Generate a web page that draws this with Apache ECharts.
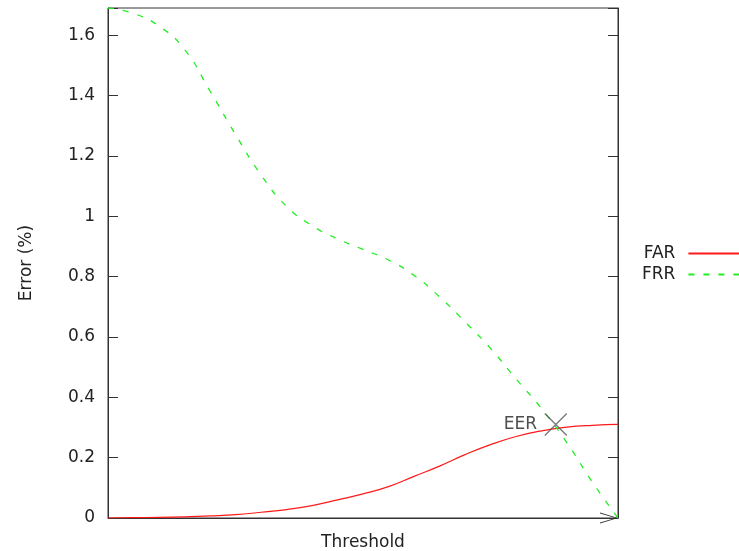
<!DOCTYPE html>
<html>
<head>
<meta charset="utf-8">
<script src="https://cdn.jsdelivr.net/npm/echarts@6/dist/echarts.min.js"></script>
<style>
html,body{margin:0;padding:0;background:#fff;}
#chart{width:739px;height:551px;}
</style>
</head>
<body>
<div id="chart"></div>
<script>
// Data
const thresholds = [0, 0.05, 0.10, 0.15, 0.20, 0.25, 0.30, 0.35, 0.40, 0.45, 0.50,
                    0.55, 0.60, 0.65, 0.70, 0.75, 0.80, 0.85, 0.90, 0.95, 1.00];
const farValues = [0, 0.001, 0.002, 0.004, 0.007, 0.011, 0.019, 0.028, 0.041, 0.060, 0.080,
                   0.104, 0.138, 0.172, 0.210, 0.243, 0.270, 0.289, 0.301, 0.307, 0.310];
const frrValues = [1.69, 1.672, 1.630, 1.553, 1.415, 1.271, 1.137, 1.033, 0.969, 0.925, 0.890,
                   0.855, 0.804, 0.733, 0.650, 0.562, 0.461, 0.363, 0.249, 0.118, 0];
const eerPoint = [0.878, 0.31];
const eerLabel = 'EER';
const seriesNames = ['FAR', 'FRR'];
const yTicks = [0, 0.2, 0.4, 0.6, 0.8, 1, 1.2, 1.4, 1.6];
const yMax = 1.69;

const FONT = 'DejaVu Sans';
const TXT = '#222';
const AX = '#333';

const chevron = 'path://M0 18 L5.5 0 L11 18 L10 18 L5.5 2.5 L1 18 Z';

function pairs(xs, ys){ return xs.map((x,i)=>[x, ys[i]]); }
function tickFmt(v){
  for (const t of yTicks) { if (Math.abs(v - t) < 1e-6) return String(t); }
  return '';
}

const chart = echarts.init(document.getElementById('chart'), null, {renderer:'canvas'});
chart.setOption({
  animation: false,
  backgroundColor: '#fff',
  textStyle: {fontFamily: FONT, color: TXT},
  grid: {left: 108, right: 121, top: 8, bottom: 33, show: true, borderColor: AX, borderWidth: 1,
         backgroundColor: 'transparent', containLabel: false, outerBoundsMode: 'none'},
  legend: {
    orient: 'vertical', left: 642, top: 245, align: 'right', padding: 0,
    itemWidth: 52, itemHeight: 20, itemGap: 4,
    itemStyle: {opacity: 0},
    textStyle: {fontFamily: FONT, fontSize: 17, color: TXT, padding: [0, 8, 0, 0]},
    data: seriesNames
  },
  xAxis: {
    type: 'value', min: 0, max: 1,
    name: 'Threshold', nameLocation: 'middle', nameGap: 16,
    nameTextStyle: {fontFamily: FONT, fontSize: 17, color: TXT, verticalAlign: 'top'},
    axisLine: {show: true, lineStyle: {color: AX, width: 1}, symbol: ['none', chevron], symbolSize: [11, 18], symbolOffset: [0, -9]},
    axisTick: {show: false}, axisLabel: {show: false}, splitLine: {show: false}
  },
  yAxis: [{
    type: 'value', min: 0, max: yMax, interval: 0.2,
    name: 'Error (%)', nameLocation: 'middle', nameGap: 73,
    nameTextStyle: {fontFamily: FONT, fontSize: 17, color: TXT},
    axisLine: {show: true, lineStyle: {color: AX, width: 1}},
    axisTick: {show: true, inside: true, length: 10, lineStyle: {color: AX, width: 1}},
    axisLabel: {fontFamily: FONT, fontSize: 17, color: TXT, margin: 13, formatter: tickFmt},
    splitLine: {show: false}
  }, {
    type: 'value', min: 0, max: yMax, interval: 0.2, position: 'right',
    axisLine: {show: true, lineStyle: {color: AX, width: 1}},
    axisTick: {show: true, inside: true, length: 10, lineStyle: {color: AX, width: 1}},
    axisLabel: {show: false}, splitLine: {show: false}
  }],
  series: [{
    name: seriesNames[0], type: 'line', data: pairs(thresholds, farValues),
    smooth: true, symbol: 'none', z: 3,
    lineStyle: {color: '#ff1a1a', width: 1.2}, itemStyle: {color: '#ff1a1a'}
  }, {
    name: seriesNames[1], type: 'line', data: pairs(thresholds, frrValues),
    smooth: true, symbol: 'none', z: 3,
    lineStyle: {color: '#22ee22', width: 1.3, type: [6, 9]}, itemStyle: {color: '#22ee22'}
  }, {
    name: eerLabel, type: 'scatter', data: [eerPoint], z: 4,
    symbol: 'path://M0 0 L20 20 M20 0 L0 20', symbolSize: 22,
    itemStyle: {color: 'transparent', borderColor: '#555', borderWidth: 1.3},
    label: {show: true, position: 'left', distance: 7, formatter: eerLabel, fontFamily: FONT, fontSize: 17, color: TXT},
    emphasis: {disabled: true}
  }]
});
</script>
</body>
</html>
